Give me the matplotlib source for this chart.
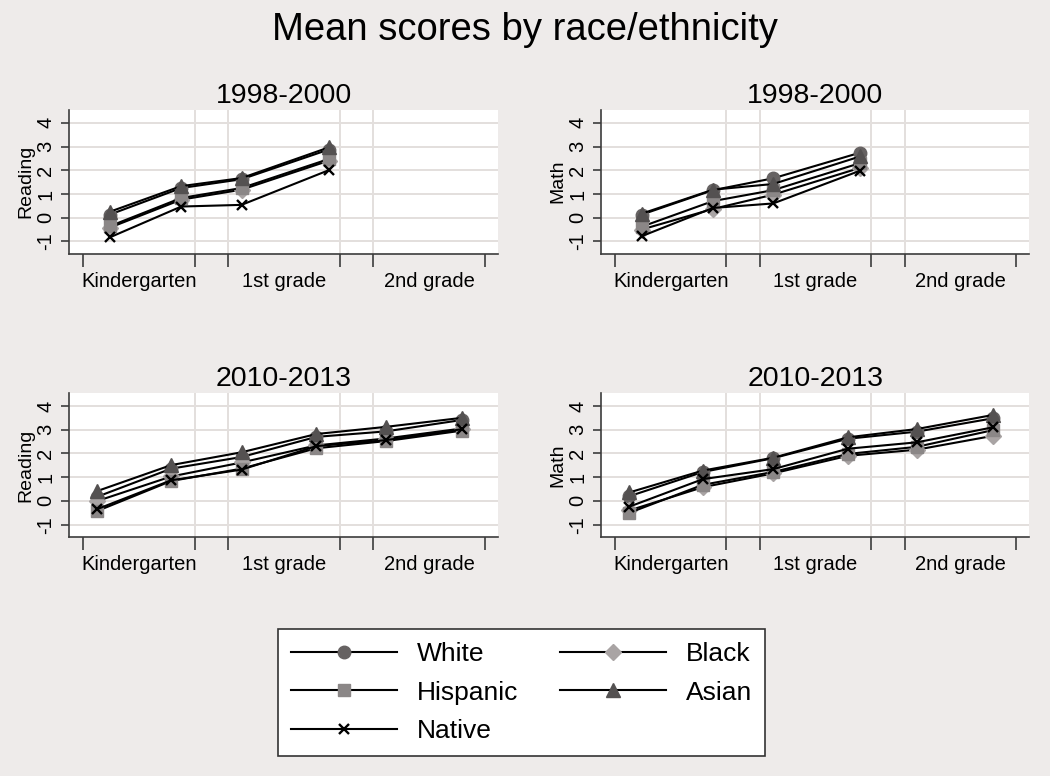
import matplotlib
matplotlib.use('Agg')
import matplotlib.pyplot as plt

plt.rcParams['font.family'] = ['Liberation Sans', 'DejaVu Sans']
plt.rcParams['axes.unicode_minus'] = False

# ---- data ----
grades = ['Kindergarten', '1st grade', '2nd grade']
groups = ['White', 'Black', 'Hispanic', 'Asian', 'Native']

# months since start of kindergarten at each assessment
wave_x_9800 = [2.4, 8.8, 14.2, 22.0]
wave_x_1013 = [1.3, 7.9, 14.2, 20.9, 27.1, 33.9]

read_9800 = {
    'White':    [0.13, 1.25, 1.62, 2.87],
    'Black':    [-0.42, 0.76, 1.18, 2.40],
    'Hispanic': [-0.36, 0.83, 1.25, 2.47],
    'Asian':    [0.25, 1.33, 1.67, 2.96],
    'Native':   [-0.83, 0.47, 0.54, 2.00],
}
math_9800 = {
    'White':    [0.13, 1.16, 1.66, 2.74],
    'Black':    [-0.50, 0.37, 0.97, 2.10],
    'Hispanic': [-0.38, 0.70, 1.16, 2.30],
    'Asian':    [0.17, 1.18, 1.42, 2.58],
    'Native':   [-0.78, 0.41, 0.60, 1.98],
}
read_1013 = {
    'White':    [0.18, 1.36, 1.85, 2.70, 2.93, 3.41],
    'Black':    [0.00, 1.03, 1.62, 2.34, 2.63, 3.05],
    'Hispanic': [-0.42, 0.84, 1.36, 2.22, 2.52, 2.96],
    'Asian':    [0.42, 1.51, 2.05, 2.82, 3.12, 3.50],
    'Native':   [-0.34, 0.87, 1.32, 2.31, 2.56, 3.02],
}
math_1013 = {
    'White':    [0.20, 1.22, 1.80, 2.62, 2.92, 3.48],
    'Black':    [-0.40, 0.58, 1.16, 1.90, 2.16, 2.74],
    'Hispanic': [-0.50, 0.68, 1.22, 1.98, 2.28, 2.98],
    'Asian':    [0.36, 1.28, 1.82, 2.68, 3.03, 3.62],
    'Native':   [-0.24, 0.92, 1.34, 2.20, 2.47, 3.10],
}

year_edges = [0, 10, 13, 23, 26, 36]
grade_mid = [5, 18, 31]

bg = '#EEEBEA'
grid_c = '#E3DFDD'
axis_c = '#3C3C3C'

styles = {
    'White':    dict(marker='o', ms=9, mfc='#666262', mec='#666262'),
    'Black':    dict(marker='D', ms=8.5, mfc='#A9A4A4', mec='#A9A4A4'),
    'Hispanic': dict(marker='s', ms=9, mfc='#8B8787', mec='#8B8787'),
    'Asian':    dict(marker='^', ms=10, mfc='#545151', mec='#545151'),
    'Native':   dict(marker='x', ms=6.5, mfc='black', mec='black', mew=1.7),
}

fig = plt.figure(figsize=(10.5, 7.76), dpi=100, facecolor=bg)
fig.text(0.5, 0.961, 'Mean scores by race/ethnicity', ha='center', va='center', fontsize=27.5)


def draw_panel(rect, title, ylabel, xs, data):
    ax = fig.add_axes(rect)
    ax.set_facecolor('white')
    for sp in ['top', 'right']:
        ax.spines[sp].set_visible(False)
    for sp in ['left', 'bottom']:
        ax.spines[sp].set_color(axis_c)
        ax.spines[sp].set_linewidth(1.2)
    ax.set_xlim(-1.25, 37.2)
    ax.set_ylim(-1.52, 4.55)
    ax.set_yticks(range(-1, 5))
    ax.yaxis.grid(True, color=grid_c, lw=1.4)
    ax.set_axisbelow(True)
    for t in year_edges[1:-1]:
        ax.axvline(t, color=grid_c, lw=1.4, zorder=0)
    ax.set_xticks(year_edges)
    ax.set_xticklabels([])
    ax.set_xticks(grade_mid, minor=True)
    ax.set_xticklabels(grades, minor=True)
    ax.tick_params(axis='x', which='minor', length=0, pad=13, labelsize=14.5)
    ax.tick_params(axis='x', which='major', length=9, width=1.2, color=axis_c)
    ax.tick_params(axis='y', length=6, width=1.2, color=axis_c, labelsize=14.5, pad=4)
    for lab in ax.get_yticklabels():
        lab.set_rotation(90)
        lab.set_va('center')
    ax.set_ylabel(ylabel, fontsize=14, labelpad=1)
    ax.set_title(title, fontsize=20.5, pad=5)
    for g in groups:
        ax.plot(xs, data[g], color='black', lw=1.5, label=g, **styles[g])
    return ax


ax1 = draw_panel([0.0657, 0.673, 0.409, 0.1856], '1998-2000', 'Reading', wave_x_9800, read_9800)
ax2 = draw_panel([0.5724, 0.673, 0.408, 0.1856], '1998-2000', 'Math', wave_x_9800, math_9800)
ax3 = draw_panel([0.0657, 0.308, 0.409, 0.1856], '2010-2013', 'Reading', wave_x_1013, read_1013)
ax4 = draw_panel([0.5724, 0.308, 0.408, 0.1856], '2010-2013', 'Math', wave_x_1013, math_1013)

handles, labels = ax1.get_legend_handles_labels()
hmap = dict(zip(labels, handles))
leg_order = ['White', 'Hispanic', 'Native', 'Black', 'Asian']
leg = fig.legend([hmap[g] for g in leg_order], leg_order, ncol=2,
                 loc='upper left', bbox_to_anchor=(0.2648, 0.1894), borderaxespad=0,
                 fontsize=19, handlelength=4.0, handletextpad=0.75,
                 columnspacing=1.6, borderpad=0.5, labelspacing=0.55,
                 fancybox=False, framealpha=1, facecolor='white', edgecolor='#333333')
leg.get_frame().set_linewidth(1.2)

fig.savefig('out.png', dpi=100, facecolor=bg)
